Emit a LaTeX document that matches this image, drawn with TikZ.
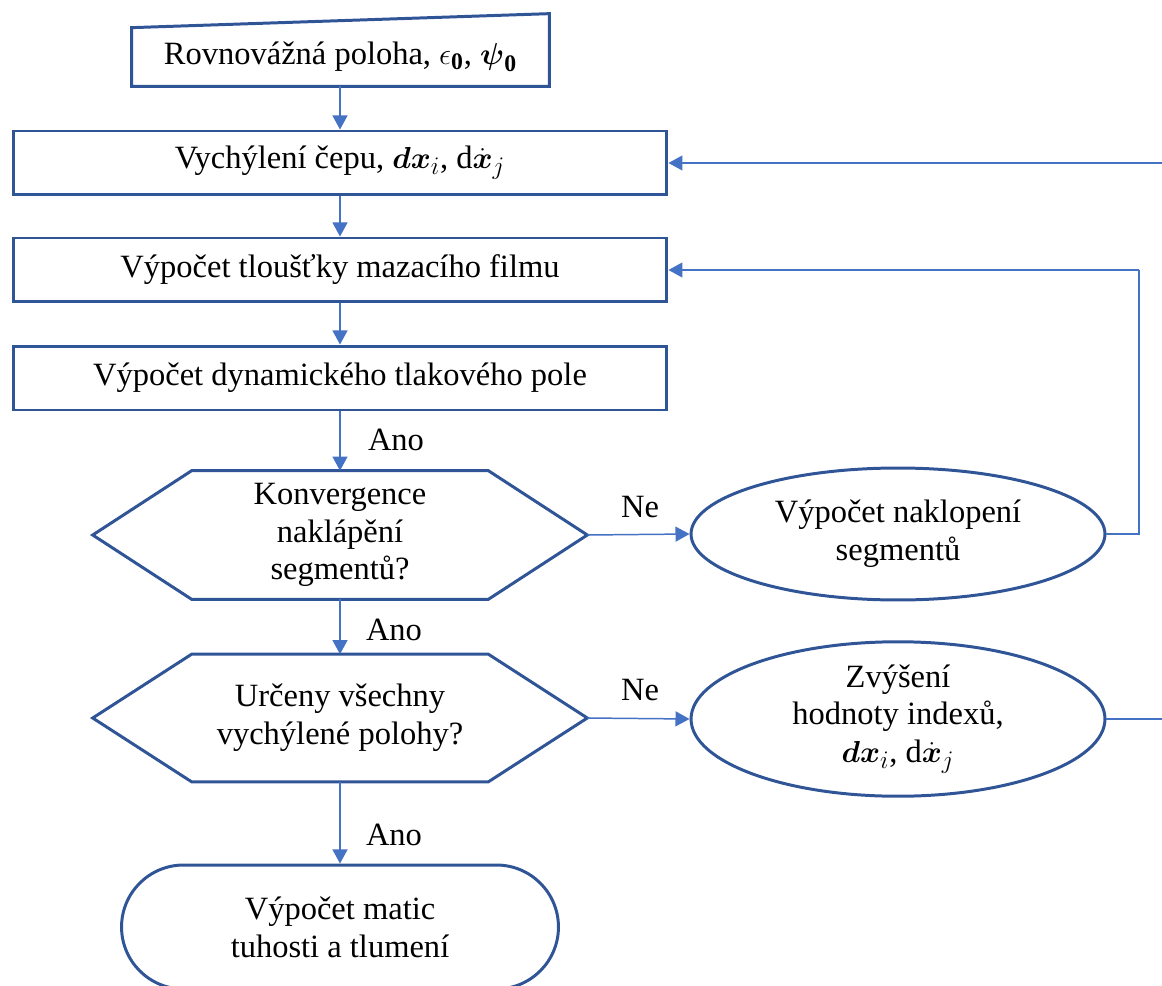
\documentclass[tikz,border=0pt]{standalone}
\usepackage{amsmath,amssymb}
\usepackage{fontspec}
\setmainfont{Liberation Serif}
\DeclareMathSizes{18.5}{18.5}{13.5}{10}
\usetikzlibrary{arrows.meta,shapes.geometric,calc}
\definecolor{bord}{HTML}{2F5597}
\definecolor{connc}{HTML}{4472C4}
\begin{document}
\begin{tikzpicture}[x=0.02cm,y=-0.02cm,
  font=\fontsize{18.5}{21.5}\selectfont,
  procbox/.style={draw=bord,line width=1.7pt,minimum width=13.08cm,minimum height=1.28cm,inner sep=0pt,align=center},
  ghost/.style={inner sep=0pt,align=center},
  border/.style={draw=bord,line width=1.7pt,line join=miter},
  ellnode/.style={ellipse,draw=bord,line width=1.7pt,minimum width=8.28cm,inner sep=0pt,align=center},
  termnode/.style={rectangle,rounded corners=1.24cm,draw=bord,line width=1.7pt,minimum width=8.74cm,minimum height=2.48cm,inner sep=0pt,align=center},
  conn/.style={draw=connc,line width=0.85pt,-{Triangle[length=8pt,width=8.5pt]}},
  plain/.style={draw=connc,line width=0.85pt},
  lbl/.style={inner sep=0pt}
]
\clip (0,0) rectangle (1162,986);

% start (manual input)
\node[ghost,minimum width=8.34cm,minimum height=1.16cm] (b1) at (340.5,57) {Rovnovážná poloha, $\epsilon_{\mathbf{0}}$, $\boldsymbol{\psi}_{\mathbf{0}}$};
\draw[border] (b1.south west) -- (b1.north west) -- ([yshift=0.28cm]b1.north east) -- (b1.south east) -- cycle;

\node[procbox] (b2) at (340,163) {Vychýlení čepu, $\boldsymbol{dx}_{i}$, d$\dot{\boldsymbol{x}}_{j}$};
\node[procbox] (b3) at (340,270) {Výpočet tloušťky mazacího filmu};
\node[procbox] (b4) at (340,378) {Výpočet dynamického tlakového pole};

% hexagons
\node[ghost,minimum width=9.88cm,minimum height=2.56cm] (h1) at (340,535) {Konvergence\\naklápění\\segmentů?};
\draw[border] (h1.west) -- ($(h1.north west)+(1.98cm,0pt)$) -- ($(h1.north east)-(1.98cm,0pt)$) -- (h1.east) -- ($(h1.south east)-(1.98cm,0pt)$) -- ($(h1.south west)+(1.98cm,0pt)$) -- cycle;

\node[ghost,minimum width=9.88cm,minimum height=2.54cm] (h2) at (340,718) {Určeny všechny\\vychýlené polohy?};
\draw[border] (h2.west) -- ($(h2.north west)+(1.98cm,0pt)$) -- ($(h2.north east)-(1.98cm,0pt)$) -- (h2.east) -- ($(h2.south east)-(1.98cm,0pt)$) -- ($(h2.south west)+(1.98cm,0pt)$) -- cycle;

% ellipses
\node[ellnode,minimum height=2.64cm] (e1) at (898,534) {Výpočet naklopení\\segmentů};
\node[ellnode,minimum height=2.56cm] (e2) at (898,719) {Zvýšení\\hodnoty indexů,\\$\boldsymbol{dx}_{i}$, d$\dot{\boldsymbol{x}}_{j}$};

% terminal
\node[termnode] (t) at (340,927) {Výpočet matic\\tuhosti a tlumení};

% connectors
\draw[conn] (b1.south -| b2.north) -- (b2.north);
\draw[conn] (b2) -- (b3);
\draw[conn] (b3) -- (b4);
\draw[conn] (b4) -- (h1);
\draw[conn] (h1) -- (h2);
\draw[conn] (h2) -- (t);
\draw[conn] (h1.east) -- (e1.west);
\draw[conn] (h2.east) -- (e2.west);

\coordinate (r1) at (1139,270);
\coordinate (r2) at (1180,163);
\draw[plain] (e1.east) -| (r1);
\draw[conn] (r1) -- (b3.east);
\draw[plain] (e2.east) -| (r2);
\draw[conn] (r2) -- (b2.east);

% labels
\node[lbl] (a1) at (396,440) {Ano};
\node[lbl] (a2) at (394,630) {Ano};
\node[lbl] (a3) at (394,835) {Ano};
\node[lbl] (n1) at (640,507) {Ne};
\node[lbl] (n2) at (640,690) {Ne};
\end{tikzpicture}
\end{document}
